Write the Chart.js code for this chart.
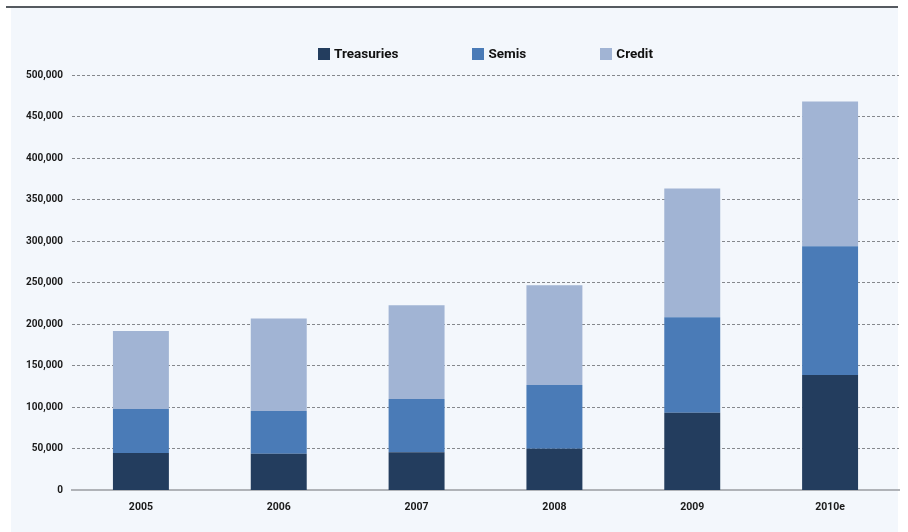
<!DOCTYPE html>
<html>
<head>
<meta charset="utf-8">
<script src="https://cdn.jsdelivr.net/npm/chart.js@4.4.1/dist/chart.umd.min.js"></script>
<style>
  html, body { margin: 0; padding: 0; background: #ffffff; }
  #wrap { position: relative; width: 908px; height: 532px; }
</style>
</head>
<body>
<div id="wrap"><canvas id="c" width="908" height="532"></canvas></div>
<script>
const categories = ["2005", "2006", "2007", "2008", "2009", "2010e"];
const treasuries = [45000, 44000, 46000, 50000, 93500, 139000];
const semis      = [53000, 51500, 64000, 77000, 115000, 155000];
const credit     = [94000, 111500, 113000, 120000, 155000, 174000];
const seriesNames = ["Treasuries", "Semis", "Credit"];
const seriesColors = ["#233d5e", "#4a7bb7", "#a1b4d4"];

const FONT = "Roboto, 'DejaVu Sans Condensed', sans-serif";

const bgPlugin = {
  id: 'bg',
  beforeDraw(chart) {
    const ctx = chart.ctx;
    ctx.save();
    ctx.fillStyle = '#f3f7fc';
    ctx.fillRect(11, 8, 887, 524);
    ctx.fillStyle = '#555a60';
    ctx.fillRect(6, 6, 892, 2);
    ctx.restore();
  }
};

const legendPlugin = {
  id: 'customLegend',
  afterDraw(chart) {
    const ctx = chart.ctx;
    const ds = chart.data.datasets;
    ctx.save();
    ctx.font = "bold 13.5px " + FONT;
    ctx.textBaseline = 'middle';
    const box = 12, gap = 4, spacing = 74;
    const widths = ds.map(d => box + gap + ctx.measureText(d.label).width);
    const total = widths.reduce((a, b) => a + b, 0) + spacing * (ds.length - 1);
    const cx = (chart.chartArea.left + chart.chartArea.right) / 2;
    let x = cx - total / 2;
    const y = 54;
    ds.forEach((d, i) => {
      ctx.fillStyle = d.backgroundColor;
      ctx.fillRect(Math.round(x), y - 6, box, box);
      ctx.fillStyle = '#111111';
      ctx.fillText(d.label, x + box + gap, y + 1);
      x += widths[i] + spacing;
    });
    ctx.restore();
  }
};

new Chart(document.getElementById('c'), {
  type: 'bar',
  data: {
    labels: categories,
    datasets: [
      { label: seriesNames[0], data: treasuries, backgroundColor: seriesColors[0] },
      { label: seriesNames[1], data: semis, backgroundColor: seriesColors[1] },
      { label: seriesNames[2], data: credit, backgroundColor: seriesColors[2] }
    ]
  },
  options: {
    responsive: false,
    animation: false,
    layout: { padding: { top: 75, right: 9, bottom: 7, left: 0 } },
    datasets: { bar: { categoryPercentage: 1.0, barPercentage: 0.406, borderWidth: 0 } },
    plugins: { legend: { display: false }, tooltip: { enabled: false } },
    scales: {
      x: {
        stacked: true,
        grid: { display: false, drawTicks: false },
        border: { display: true, color: '#b0b3b8', width: 2 },
        ticks: { color: '#1a1a1a', padding: 11, font: { family: FONT, size: 10.5, weight: 'bold' } }
      },
      y: {
        stacked: true,
        min: 0, max: 500000,
        afterFit(s) { s.width = 72; },
        border: { display: false, dash: [3, 2] },
        grid: {
          drawTicks: false,
          color: ctx => ctx.tick && ctx.tick.value === 0 ? 'rgba(0,0,0,0)' : '#85888d',
          lineWidth: 1
        },
        ticks: {
          stepSize: 50000,
          padding: 9,
          color: '#1a1a1a',
          font: { family: FONT, size: 10, weight: 'bold' },
          callback: v => v.toLocaleString('en-US')
        }
      }
    }
  },
  plugins: [bgPlugin, legendPlugin]
});
</script>
</body>
</html>
